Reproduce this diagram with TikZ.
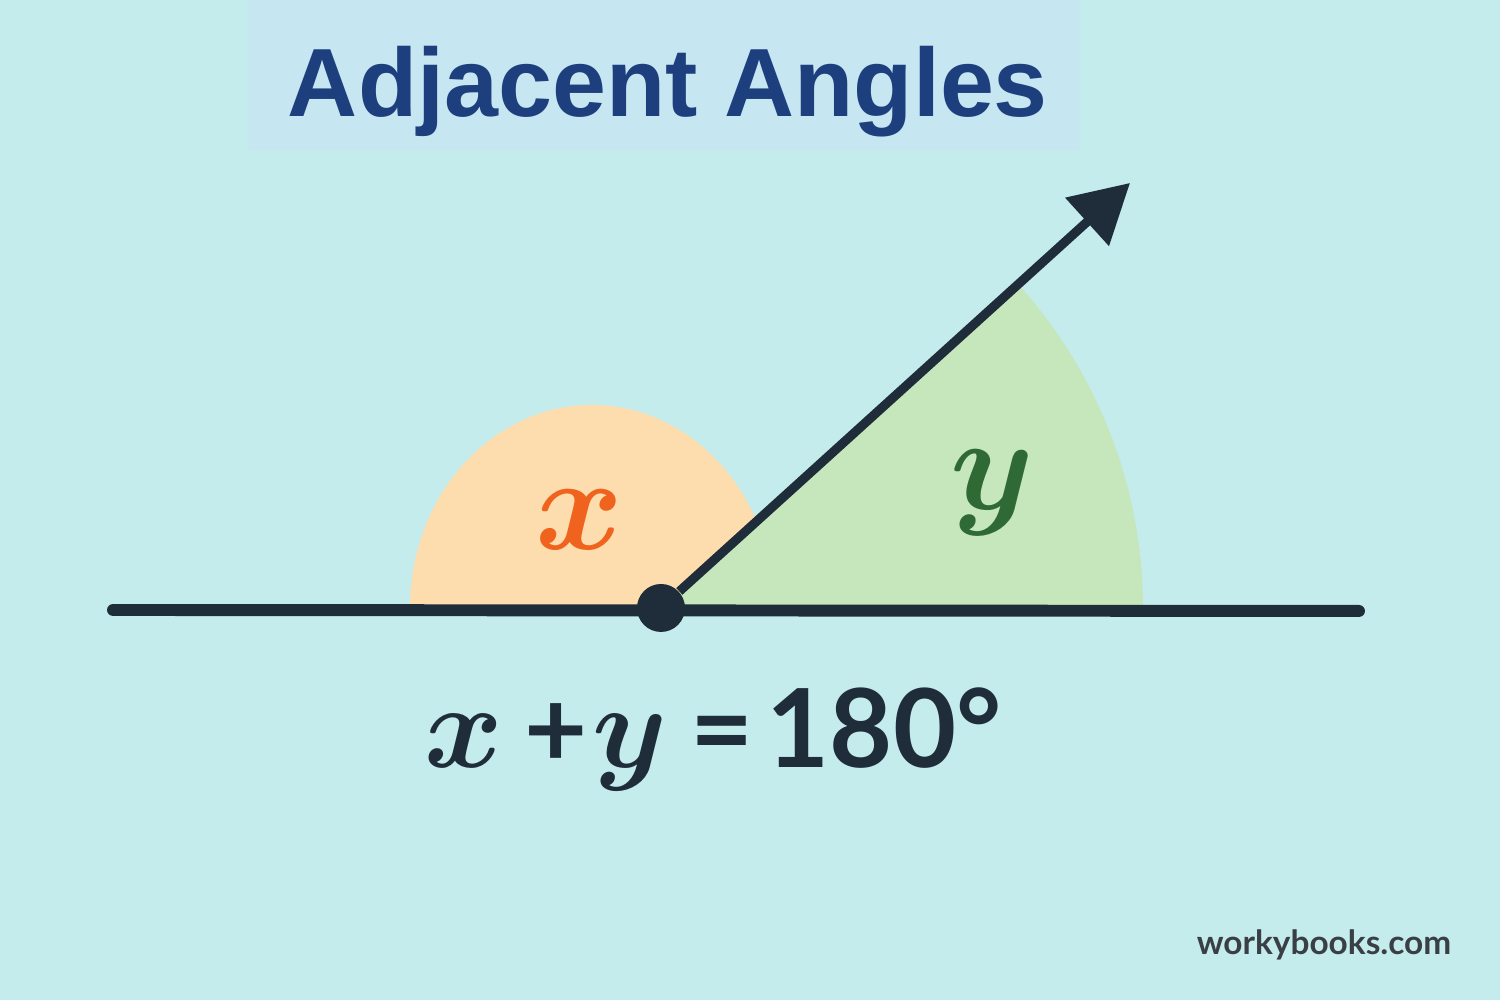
\documentclass[tikz,border=0pt]{standalone}
\usepackage{fix-cm}
\usepackage{fontspec}
\setmainfont{Liberation Sans}
\newfontfamily\latofont{Lato}
\usetikzlibrary{arrows.meta}

\definecolor{bgcyan}{HTML}{C4ECEC}
\definecolor{titlebox}{HTML}{C6E6F1}
\definecolor{titleblue}{HTML}{1D3F7E}
\definecolor{inkdark}{HTML}{1F2D3A}
\definecolor{xfill}{HTML}{FDDDAE}
\definecolor{xink}{HTML}{F0631E}
\definecolor{yfill}{HTML}{C6E6BC}
\definecolor{yink}{HTML}{2F6A35}
\definecolor{markgray}{HTML}{3A3F46}

\def\angvar#1#2{{\fontsize{#1}{#1}\selectfont\boldmath$#2$}}

\tikzset{
	darkline/.style={inkdark, line width=#1, line cap=round},
	darkline/.default=3.4pt,
	bigtext/.style={anchor=base, font=\fontsize{#1}{#1}\selectfont\latofont\bfseries},
}

\begin{document}
\begin{tikzpicture}
		%%%%% START %%%%%
		
		\fill[bgcyan] (0, 0) rectangle (15, 10);
		\useasboundingbox (0, 0) rectangle (15, 10);
		
		\fill[titlebox] (2.48, 8.50) rectangle (10.80, 10);
		\node[anchor=base, text=titleblue, font=\fontsize{27.6}{27.6}\selectfont\bfseries] (title) at (6.68, 8.83) {Adjacent Angles};
		
		\coordinate (O) at (6.61, 3.92);
		\fill[xfill] (4.10, 3.92) arc[start angle=180, end angle=0, x radius=1.82, y radius=2.03] -- cycle;
		\fill[yfill] (O) -- ++(0:4.82) arc[start angle=0, end angle=42.2, radius=4.82] -- cycle;
		
		\coordinate (L) at (1.13, 3.90);
		\coordinate (R) at (13.59, 3.89);
		\coordinate (T) at (11.30, 8.17);
		\draw[darkline] (L) -- (R);
		\node[circle, fill=inkdark, inner sep=0pt, minimum size=4.8mm] (vertex) at (O) {};
		\draw[darkline=2.6pt, line cap=butt, -{Triangle[length=5.8mm, width=6.3mm]}] (vertex) -- (T);
		
		\node[anchor=base, text=xink] (xlabel) at (5.80, 4.50) {\angvar{38}{x}};
		\node[anchor=base, text=yink] (ylabel) at (9.92, 4.90) {\angvar{38}{y}};
		
		\node[bigtext=31, anchor=base west, inner sep=0pt, text=inkdark] (sum) at (4.24, 2.32) {\angvar{34}{x}\hspace{0.21cm}+\hspace{0.05cm}\angvar{34}{y}\hspace{0.23cm}=\hspace{0.13cm}180°};
		
		\node[bigtext=9.5, text=markgray] (brand) at (13.24, 0.45) {workybooks.com};
		
		%%%%% END %%%%%
	\end{tikzpicture}
\end{document}
